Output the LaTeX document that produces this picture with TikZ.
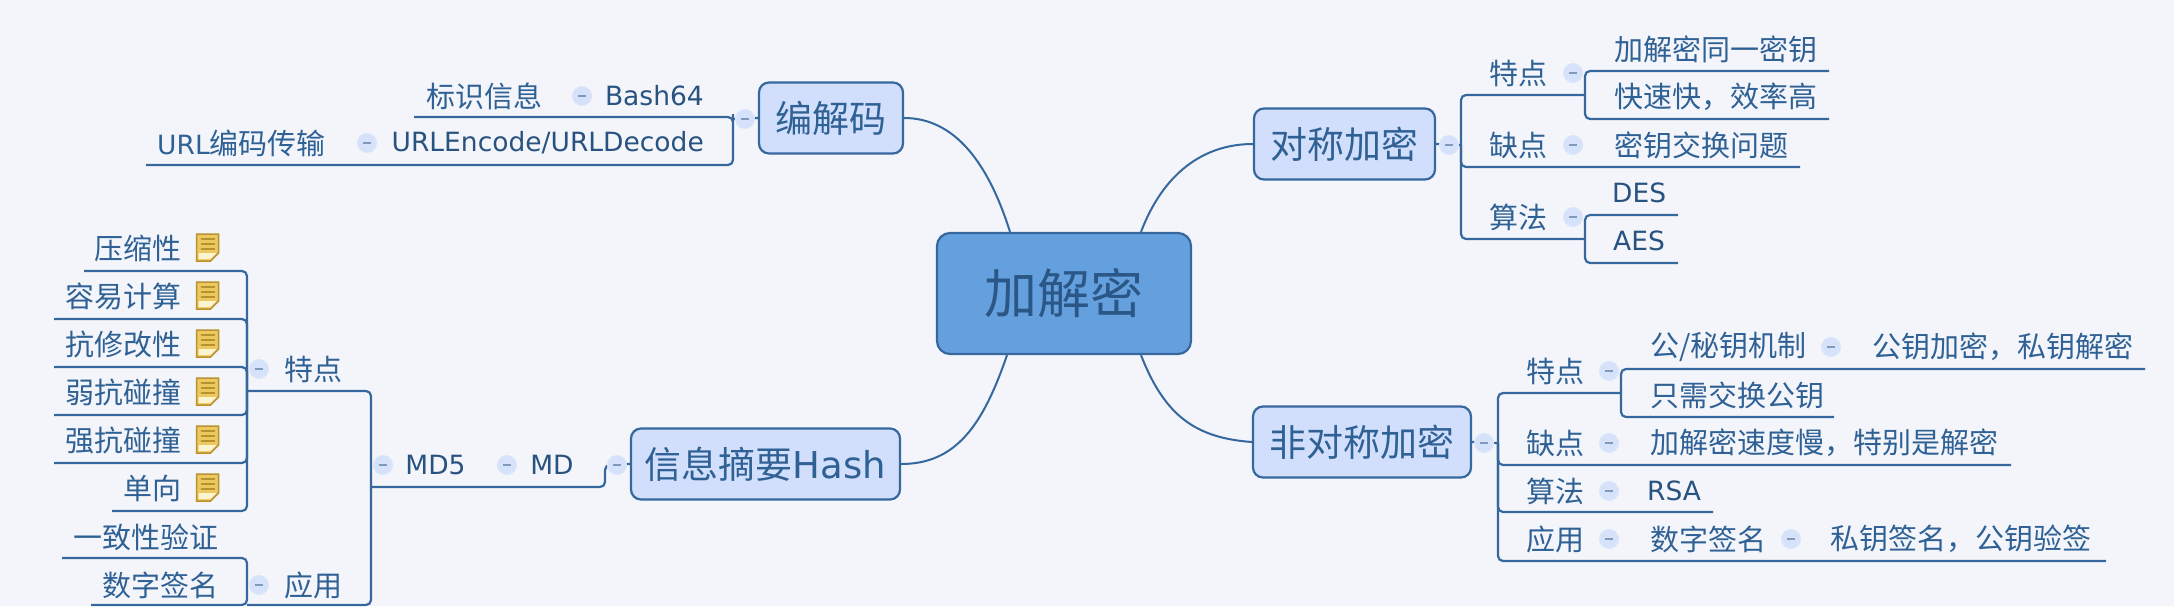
\documentclass[tikz,border=0pt]{standalone}
\usepackage{fontspec}
\setmainfont{DejaVu Sans}
\newfontfamily\cjkf{Noto Sans CJK SC}
\usetikzlibrary{backgrounds}
\definecolor{bgc}{HTML}{F3F5FB}
\definecolor{linec}{HTML}{36689E}
\definecolor{txtc}{HTML}{2F6195}
\definecolor{boxc}{HTML}{D1DFFC}
\definecolor{mainc}{HTML}{65A0DE}
\definecolor{dotc}{HTML}{D5E2FA}
\definecolor{dashc}{HTML}{7E9ABF}
\definecolor{noteb}{HTML}{B8922E}
\definecolor{notef}{HTML}{EBC960}
\definecolor{notew}{HTML}{FBF4D0}
\newcommand{\zh}[1]{{\cjkf #1}}
\tikzset{
  link/.style={draw=linec,line width=2.2pt,rounded corners=5pt},
  curvelink/.style={draw=linec,line width=2pt},
  lab/.style={inner sep=0pt,text=txtc,font=\fontsize{29}{30}\selectfont},
  lat/.style={inner sep=0pt,text=txtc!85!black,font=\fontsize{26.5}{30}\selectfont},
  topicbox/.style={draw=linec,line width=2.2pt,fill=boxc,rounded corners=10pt,inner sep=0pt,text=txtc,font=\fontsize{37}{40}\selectfont},
  mainbox/.style={draw=linec,line width=2.2pt,fill=mainc,rounded corners=13pt,inner sep=0pt,text=txtc!90!black,font=\fontsize{53}{56}\selectfont},
  fold/.style={circle,fill=dotc,draw=dotc!85!white,line width=1pt,minimum size=19pt,inner sep=0pt,
    path picture={\draw[dashc,line width=1.6pt] ([xshift=-4pt]path picture bounding box.center) -- ([xshift=4pt]path picture bounding box.center);}},
  noteicon/.pic={
    \path[fill=notef,draw=noteb,line width=1.5pt] (-11,-13) -- (11,-13) -- (11,6) -- (3,14) -- (-11,14) -- cycle;
    \path[fill=notew] (-9,6) -- (9,6) -- (3,12) -- (-9,12) -- cycle;
    \path[draw=noteb,line width=1.4pt] (-7,-8) -- (7,-8) (-7,-3) -- (7,-3) (-7,2) -- (7,2);
  }
}
\begin{document}
\begin{tikzpicture}[x=1pt,y=-1pt]
\begin{pgfonlayer}{background}
\fill[bgc] (0,0) rectangle (2174,606);
\end{pgfonlayer}
\useasboundingbox (0,0) rectangle (2174,606);

% main and topics
\node[mainbox,minimum width=254pt,minimum height=121pt] (central) at (1064,293.5) {\zh{加解密}};
\node[topicbox,minimum width=181pt,minimum height=71pt] (sym) at (1344.5,144) {\zh{对称加密}};
\node[topicbox,minimum width=218pt,minimum height=71pt] (asym) at (1362,442) {\zh{非对称加密}};
\node[topicbox,minimum width=144pt,minimum height=71pt] (codec) at (831,118) {\zh{编解码}};
\node[topicbox,minimum width=269pt,minimum height=71pt] (hash) at (765.5,464) {\zh{信息摘要}Hash};

% fold dots
\foreach \n/\x/\y in {fsym/1449/145,fs1/1573/73,fs2/1573/145,fs3/1573/217,
  fasym/1484/443,fa1/1609/371,fa11/1831/347,fa2/1609/443,fa3/1609/491,fa4/1609/539,fa41/1791/539,
  fcodec/745/119,fc1/582/96,fc2/367/143,
  fhash/617/465,fmd/507/465,fmd5/383/465,ft/259/369,fy/259/585}
  \node[fold] (\n) at (\x,\y) {};

% right top
\node[lab,anchor=center] (s1) at (1518,73) {\zh{特点}};
\node[lab,anchor=center] (s2) at (1518,145) {\zh{缺点}};
\node[lab,anchor=center] (s3) at (1518,217) {\zh{算法}};
\node[lab,anchor=west] (s11) at (1614,49) {\zh{加解密同一密钥}};
\node[lab,anchor=west] (s12) at (1614,97) {\zh{快速快，效率高}};
\node[lab,anchor=west] (s21) at (1614,145) {\zh{密钥交换问题}};
\node[lat,anchor=west] (s31) at (1612,193) {DES};
\node[lat,anchor=west] (s32) at (1613,241) {AES};

% right bottom
\node[lab,anchor=center] (a1) at (1555,371) {\zh{特点}};
\node[lab,anchor=center] (a2) at (1555,443) {\zh{缺点}};
\node[lab,anchor=center] (a3) at (1555,491) {\zh{算法}};
\node[lab,anchor=center] (a4) at (1555,539) {\zh{应用}};
\node[lab,anchor=west] (a11) at (1650,347) {\zh{公/秘钥机制}};
\node[lab,anchor=west] (a111) at (1872,347) {\zh{公钥加密，私钥解密}};
\node[lab,anchor=west] (a12) at (1650,395) {\zh{只需交换公钥}};
\node[lab,anchor=west] (a21) at (1650,443) {\zh{加解密速度慢，特别是解密}};
\node[lat,anchor=west] (a31) at (1647,491) {RSA};
\node[lab,anchor=west] (a41) at (1650,539) {\zh{数字签名}};
\node[lab,anchor=west] (a411) at (1830,539) {\zh{私钥签名，公钥验签}};

% codec
\node[lat,anchor=east] (c1) at (704,96) {Bash64};
\node[lab,anchor=east] (c11) at (543,96) {\zh{标识信息}};
\node[lat,anchor=east] (c2) at (704,143) {URLEncode/URLDecode};
\node[lab,anchor=east] (c21) at (326,143) {\fontsize{26.5}{30}\selectfont URL\fontsize{29}{30}\selectfont\zh{编码传输}};

% hash
\node[lat,anchor=center] (md) at (552,465) {MD};
\node[lat,anchor=center] (md5) at (435.5,465) {MD5};
\node[lab,anchor=center] (ht) at (313,369) {\zh{特点}};
\node[lab,anchor=center] (hy) at (313,585) {\zh{应用}};
\node[lab,anchor=east] (h1) at (182,248) {\zh{压缩性}};
\node[lab,anchor=east] (h2) at (182,296) {\zh{容易计算}};
\node[lab,anchor=east] (h3) at (182,344) {\zh{抗修改性}};
\node[lab,anchor=east] (h4) at (182,392) {\zh{弱抗碰撞}};
\node[lab,anchor=east] (h5) at (182,440) {\zh{强抗碰撞}};
\node[lab,anchor=east] (h6) at (182,488) {\zh{单向}};
\node[lab,anchor=east] (h7) at (219,537) {\zh{一致性验证}};
\node[lab,anchor=east] (h8) at (219,585) {\zh{数字签名}};
\foreach \n/\y in {1/247,2/295,3/343,4/391,5/439,6/487}
  \pic (note\n) at (207.5,\y) {noteicon};

% ends of the underlines and trunks
\foreach \n/\x/\y in {
  st/1461/145, stt/1461/95, stb/1461/239, sa/1585/95, sb/1585/239,
  e11/1829/71, e12/1829/119, e21/1800/167, e31/1678/215, e32/1678/263,
  at/1498/443, att/1498/393, atb/1498/561, aa/1621/393,
  f11/2145/369, f12/1834/417, f21/2011/465, f31/1713/512, f41/2106/561,
  ct/733/119, g1/414/117, g2/146/165,
  hb/605/465, hc/371/487, hd/371/391, he/247/391, hf/371/605, hg/247/605,
  j1/84/271, j2/54/319, j3/54/367, j4/54/415, j5/54/463, j6/112/511,
  k1/62/558, k2/91/605}
  \coordinate (\n) at (\x,\y);

\begin{pgfonlayer}{background}
% curved main branches
\draw[curvelink] ([xshift=77pt]central.north) .. controls +(22,-58) and +(-50,0) .. (sym.west);
\draw[curvelink] ([xshift=77pt]central.south) .. controls +(24,62) and +(-55,-4) .. (asym.west);
\draw[curvelink] ([xshift=-54pt]central.north) .. controls +(-22,-70) and +(50,0) .. (codec.east);
\draw[curvelink] ([xshift=-57pt]central.south) .. controls +(-24,70) and +(55,0) .. (hash.east);

% symmetric
\draw[link] (sym.east) -- (st);
\draw[link] (sa) -| (stb) -- (sb);
\draw[link] (st) |- (e21);
\draw[link] (e11) -| (sa) |- (e12);
\draw[link] (e31) -| (sb) |- (e32);

% asymmetric
\draw[link] (asym.east) -- (at);
\draw[link] (aa) -| (atb) -- (f41);
\draw[link] (at) |- (f21);
\draw[link] (at) |- (f31);
\draw[link] (f11) -| (aa) |- (f12);

% codec
\draw[link] (codec.west) -- (ct);
\draw[link] (g1) -| (ct) |- (g2);

% hash
\draw[link] (hash.west) -- (hb) |- (hc);
\draw[link] (he) -- (hd) -- (hf) -- (hg);
\draw[link] (j1) -| (he) |- (j6);
\draw[link] (j2) -| (he);
\draw[link] (j3) -| (he);
\draw[link] (he) |- (j4);
\draw[link] (he) |- (j5);
\draw[link] (k1) -| (hg) -- (k2);
\end{pgfonlayer}
\end{tikzpicture}
\end{document}
